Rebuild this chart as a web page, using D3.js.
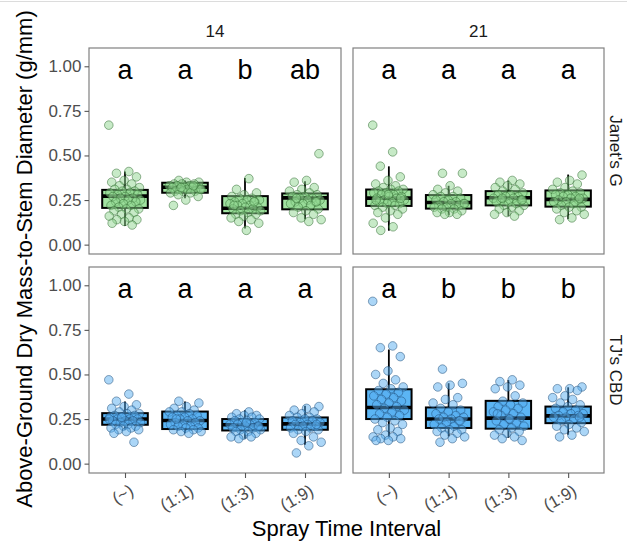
<!DOCTYPE html>
<html>
<head>
<meta charset="utf-8">
<script src="https://cdn.jsdelivr.net/npm/d3@7"></script>
<style>
  html, body { margin: 0; padding: 0; background: #fff; }
  svg { display: block; font-family: 'Liberation Sans', Arial, sans-serif; }
</style>
</head>
<body>
<div id="chart"></div>
<script>
// categories
const intervals = ['(~)', '(1:1)', '(1:3)', '(1:9)']
const days = ['14', '21']
const cultivars = ["Janet's G", "TJ's CBD"]
const yTicks = [0, 0.25, 0.5, 0.75, 1]

// box stats per panel, one row per interval: [lower whisker, q1, median, q3, upper whisker]
const janet14Box = [[0.105, 0.206, 0.272, 0.307, 0.41], [0.26, 0.291, 0.322, 0.347, 0.36], [0.091, 0.176, 0.204, 0.272, 0.374], [0.143, 0.198, 0.262, 0.287, 0.356]]
const janet21Box = [[0.078, 0.217, 0.261, 0.309, 0.439], [0.165, 0.202, 0.236, 0.278, 0.33], [0.16, 0.22, 0.263, 0.30, 0.36], [0.143, 0.213, 0.254, 0.304, 0.393]]
const tj14Box = [[0.19, 0.218, 0.25, 0.283, 0.348], [0.17, 0.194, 0.242, 0.292, 0.348], [0.14, 0.186, 0.218, 0.25, 0.30], [0.106, 0.19, 0.223, 0.259, 0.324]]
const tj21Box = [[0.153, 0.25, 0.315, 0.417, 0.64], [0.153, 0.20, 0.25, 0.315, 0.451], [0.145, 0.196, 0.255, 0.352, 0.469], [0.162, 0.227, 0.268, 0.32, 0.428]]

// compact letter display per panel
const janet14Letters = ['a', 'a', 'b', 'ab']
const janet21Letters = ['a', 'a', 'a', 'a']
const tj14Letters = ['a', 'a', 'a', 'a']
const tj21Letters = ['a', 'b', 'b', 'b']
const letterY = 1.0

const janet14None = [0.67, 0.41, 0.40, 0.38, 0.36, 0.35, 0.34, 0.33, 0.32, 0.31, 0.31, 0.30, 0.30, 0.29, 0.29, 0.28, 0.28, 0.27, 0.27, 0.26, 0.26, 0.25, 0.25, 0.24, 0.24, 0.23, 0.22, 0.22, 0.21, 0.20, 0.20, 0.19, 0.18, 0.17, 0.16, 0.15, 0.14, 0.14, 0.13, 0.12, 0.11]
const janet14R11 = [0.36, 0.35, 0.35, 0.34, 0.34, 0.34, 0.33, 0.33, 0.33, 0.32, 0.32, 0.32, 0.32, 0.31, 0.31, 0.31, 0.30, 0.30, 0.30, 0.29, 0.29, 0.28, 0.27, 0.25, 0.22, 0.33, 0.32, 0.31]
const janet14R13 = [0.37, 0.31, 0.29, 0.28, 0.27, 0.26, 0.26, 0.25, 0.25, 0.24, 0.24, 0.23, 0.23, 0.22, 0.22, 0.21, 0.21, 0.20, 0.20, 0.19, 0.19, 0.18, 0.17, 0.17, 0.16, 0.15, 0.14, 0.13, 0.12, 0.08, 0.22, 0.24]
const janet14R19 = [0.51, 0.36, 0.35, 0.32, 0.31, 0.30, 0.29, 0.28, 0.28, 0.27, 0.27, 0.26, 0.26, 0.25, 0.25, 0.24, 0.24, 0.23, 0.23, 0.22, 0.21, 0.20, 0.19, 0.18, 0.17, 0.15, 0.14, 0.13, 0.26, 0.24]
const janet21None = [0.67, 0.52, 0.44, 0.38, 0.36, 0.34, 0.33, 0.32, 0.31, 0.31, 0.30, 0.30, 0.29, 0.29, 0.28, 0.28, 0.27, 0.27, 0.26, 0.26, 0.25, 0.25, 0.24, 0.24, 0.23, 0.23, 0.22, 0.22, 0.21, 0.20, 0.19, 0.18, 0.17, 0.15, 0.12, 0.10, 0.08, 0.26, 0.28, 0.25]
const janet21R11 = [0.40, 0.40, 0.33, 0.31, 0.30, 0.29, 0.28, 0.27, 0.27, 0.26, 0.25, 0.25, 0.24, 0.24, 0.23, 0.23, 0.22, 0.22, 0.21, 0.21, 0.20, 0.20, 0.19, 0.18, 0.18, 0.17, 0.17, 0.23]
const janet21R13 = [0.36, 0.35, 0.34, 0.33, 0.32, 0.31, 0.30, 0.29, 0.28, 0.28, 0.27, 0.27, 0.26, 0.26, 0.25, 0.25, 0.24, 0.24, 0.23, 0.22, 0.22, 0.21, 0.20, 0.19, 0.18, 0.17, 0.16, 0.26, 0.25]
const janet21R19 = [0.39, 0.36, 0.35, 0.34, 0.32, 0.31, 0.30, 0.29, 0.29, 0.28, 0.28, 0.27, 0.27, 0.26, 0.26, 0.25, 0.25, 0.24, 0.24, 0.23, 0.22, 0.21, 0.21, 0.20, 0.19, 0.18, 0.17, 0.15, 0.14, 0.26]
const tj14None = [0.47, 0.39, 0.35, 0.33, 0.32, 0.31, 0.30, 0.29, 0.28, 0.28, 0.27, 0.27, 0.26, 0.26, 0.25, 0.25, 0.25, 0.24, 0.24, 0.24, 0.23, 0.23, 0.22, 0.22, 0.21, 0.21, 0.20, 0.20, 0.19, 0.19, 0.18, 0.17, 0.12, 0.26, 0.25]
const tj14R11 = [0.35, 0.34, 0.32, 0.31, 0.30, 0.29, 0.29, 0.28, 0.27, 0.27, 0.26, 0.26, 0.25, 0.25, 0.24, 0.24, 0.23, 0.23, 0.22, 0.22, 0.21, 0.21, 0.20, 0.20, 0.19, 0.19, 0.18, 0.18, 0.17, 0.25]
const tj14R13 = [0.29, 0.28, 0.27, 0.27, 0.26, 0.26, 0.25, 0.25, 0.24, 0.24, 0.23, 0.23, 0.22, 0.22, 0.22, 0.21, 0.21, 0.20, 0.20, 0.19, 0.19, 0.18, 0.18, 0.17, 0.16, 0.15, 0.15, 0.14, 0.21, 0.23]
const tj14R19 = [0.32, 0.31, 0.30, 0.29, 0.28, 0.27, 0.26, 0.26, 0.25, 0.25, 0.24, 0.24, 0.23, 0.23, 0.22, 0.22, 0.21, 0.21, 0.20, 0.20, 0.19, 0.19, 0.18, 0.17, 0.15, 0.13, 0.12, 0.10, 0.06, 0.22]
const tj21None = [0.91, 0.66, 0.65, 0.60, 0.52, 0.50, 0.47, 0.45, 0.43, 0.42, 0.41, 0.40, 0.39, 0.38, 0.37, 0.36, 0.35, 0.34, 0.33, 0.32, 0.31, 0.30, 0.29, 0.28, 0.27, 0.26, 0.25, 0.24, 0.23, 0.22, 0.20, 0.19, 0.18, 0.16, 0.15, 0.15, 0.14, 0.14, 0.13, 0.13]
const tj21R11 = [0.53, 0.45, 0.44, 0.43, 0.37, 0.36, 0.34, 0.33, 0.31, 0.30, 0.29, 0.28, 0.27, 0.26, 0.26, 0.25, 0.25, 0.24, 0.23, 0.22, 0.21, 0.20, 0.19, 0.19, 0.18, 0.17, 0.16, 0.15, 0.14, 0.12, 0.24]
const tj21R13 = [0.47, 0.46, 0.44, 0.43, 0.42, 0.38, 0.35, 0.34, 0.33, 0.32, 0.31, 0.30, 0.29, 0.28, 0.27, 0.26, 0.25, 0.24, 0.23, 0.22, 0.21, 0.20, 0.19, 0.18, 0.17, 0.16, 0.15, 0.14, 0.13, 0.25, 0.28]
const tj21R19 = [0.43, 0.42, 0.42, 0.41, 0.38, 0.37, 0.36, 0.34, 0.33, 0.32, 0.31, 0.30, 0.29, 0.28, 0.28, 0.27, 0.27, 0.26, 0.26, 0.25, 0.24, 0.23, 0.22, 0.21, 0.20, 0.19, 0.18, 0.16, 0.15, 0.26]

const panels = [
  { row: 0, col: 0, box: janet14Box, letters: janet14Letters, points: [janet14None, janet14R11, janet14R13, janet14R19] },
  { row: 0, col: 1, box: janet21Box, letters: janet21Letters, points: [janet21None, janet21R11, janet21R13, janet21R19] },
  { row: 1, col: 0, box: tj14Box, letters: tj14Letters, points: [tj14None, tj14R11, tj14R13, tj14R19] },
  { row: 1, col: 1, box: tj21Box, letters: tj21Letters, points: [tj21None, tj21R11, tj21R13, tj21R19] }
]

const width = 627, height = 542
const colX = [[89, 341], [353, 604]]
const rowY = [[48, 254], [267, 473]]
const rowColors = [
  { box: '#a2e3a2', pt: '#8fd68f', ptStroke: '#2f6a2f' },
  { box: '#5bb5f4', pt: '#58aeef', ptStroke: '#1d4c78' }
]
const axisGrey = '#4d4d4d'

const svg = d3.select('#chart').append('svg')
  .attr('width', width)
  .attr('height', height)

// faint rule along the top edge of the screenshot
svg.append('line')
  .attr('x1', 0).attr('x2', width)
  .attr('y1', 1.5).attr('y2', 1.5)
  .attr('stroke', '#dcdcdc')

panels.forEach(p => {
  const x = d3.scalePoint().domain(intervals).range(colX[p.col]).padding(0.6)
  const y = d3.scaleLinear().domain([-0.0525, 1.1025]).range(rowY[p.row].slice().reverse())
  const step = x.step()
  const c = rowColors[p.row]
  const g = svg.append('g')

  g.append('rect')
    .attr('x', colX[p.col][0]).attr('y', rowY[p.row][0])
    .attr('width', colX[p.col][1] - colX[p.col][0])
    .attr('height', rowY[p.row][1] - rowY[p.row][0])
    .attr('fill', '#fff')

  const bw = step * 0.76
  const boxes = g.append('g').selectAll('g')
    .data(p.box.map((b, i) => ({ key: intervals[i], lo: b[0], q1: b[1], med: b[2], q3: b[3], hi: b[4] })))
    .join('g')

  boxes.append('line')
    .attr('x1', d => x(d.key)).attr('x2', d => x(d.key))
    .attr('y1', d => y(d.hi)).attr('y2', d => y(d.q3))
    .attr('stroke', '#000').attr('stroke-width', 1.8)
  boxes.append('line')
    .attr('x1', d => x(d.key)).attr('x2', d => x(d.key))
    .attr('y1', d => y(d.q1)).attr('y2', d => y(d.lo))
    .attr('stroke', '#000').attr('stroke-width', 1.8)
  boxes.append('rect')
    .attr('x', d => x(d.key) - bw / 2)
    .attr('y', d => y(d.q3))
    .attr('width', bw)
    .attr('height', d => y(d.q1) - y(d.q3))
    .attr('fill', c.box)
    .attr('stroke', '#000').attr('stroke-width', 2)
  boxes.append('line')
    .attr('x1', d => x(d.key) - bw / 2).attr('x2', d => x(d.key) + bw / 2)
    .attr('y1', d => y(d.med)).attr('y2', d => y(d.med))
    .attr('stroke', '#000').attr('stroke-width', 3.6)

  // jittered observations (deterministic spread)
  const pts = []
  p.points.forEach((vals, i) => {
    vals.forEach((v, j) => {
      const u = ((j * 0.618034 + i * 0.31) % 1) - 0.5
      pts.push({ key: intervals[i], v, dx: u * 2 * 0.27 * step })
    })
  })
  g.append('g').selectAll('circle')
    .data(pts)
    .join('circle')
      .attr('cx', d => x(d.key) + d.dx)
      .attr('cy', d => y(d.v))
      .attr('r', 4.3)
      .attr('fill', c.pt).attr('fill-opacity', 0.5)
      .attr('stroke', c.ptStroke).attr('stroke-opacity', 0.5).attr('stroke-width', 1)

  g.append('g').selectAll('text')
    .data(p.letters)
    .join('text')
      .attr('x', (d, i) => x(intervals[i]))
      .attr('y', y(letterY))
      .attr('dy', '0.46em')
      .attr('text-anchor', 'middle')
      .attr('font-size', 27)
      .attr('fill', '#000')
      .text(d => d)

  g.append('rect')
    .attr('x', colX[p.col][0]).attr('y', rowY[p.row][0])
    .attr('width', colX[p.col][1] - colX[p.col][0])
    .attr('height', rowY[p.row][1] - rowY[p.row][0])
    .attr('fill', 'none')
    .attr('stroke', '#808080').attr('stroke-width', 1.2)

  if (p.col === 0) {
    const ax = svg.append('g')
      .attr('transform', `translate(${colX[0][0]},0)`)
      .call(d3.axisLeft(y).tickValues(yTicks).tickFormat(d3.format('.2f')).tickSize(4.5).tickPadding(3))
    ax.select('.domain').remove()
    ax.selectAll('line').attr('stroke', '#555').attr('stroke-width', 1.1)
    ax.selectAll('text').attr('font-size', 17).attr('fill', axisGrey).attr('font-family', null)
  }
  if (p.row === 1) {
    const ax = svg.append('g')
      .attr('transform', `translate(0,${rowY[1][1]})`)
      .call(d3.axisBottom(x).tickSize(5).tickPadding(3))
    ax.select('.domain').remove()
    ax.selectAll('line').attr('stroke', '#555').attr('stroke-width', 1.1)
    ax.selectAll('text')
      .attr('font-size', 17).attr('fill', axisGrey).attr('font-family', null)
      .attr('text-anchor', 'end')
      .attr('y', 0).attr('dy', '0.75em')
      .attr('transform', 'translate(3,10) rotate(-30)')
  }
})

// strip labels
svg.append('g').selectAll('text')
  .data(days)
  .join('text')
    .attr('x', (d, i) => (colX[i][0] + colX[i][1]) / 2)
    .attr('y', 37)
    .attr('text-anchor', 'middle')
    .attr('font-size', 17)
    .attr('fill', '#1a1a1a')
    .text(d => d)

svg.append('g').selectAll('text')
  .data(cultivars)
  .join('text')
    .attr('transform', (d, i) => `translate(610,${(rowY[i][0] + rowY[i][1]) / 2}) rotate(90)`)
    .attr('text-anchor', 'middle')
    .attr('font-size', 17)
    .attr('fill', '#1a1a1a')
    .text(d => d)

// axis titles
svg.append('text')
  .attr('x', (colX[0][0] + colX[1][1]) / 2)
  .attr('y', 536)
  .attr('text-anchor', 'middle')
  .attr('font-size', 22)
  .text('Spray Time Interval')

svg.append('text')
  .attr('transform', 'translate(32,259) rotate(-90)')
  .attr('text-anchor', 'middle')
  .attr('font-size', 22)
  .text('Above-Ground Dry Mass-to-Stem Diameter (g/mm)')
</script>
</body>
</html>
